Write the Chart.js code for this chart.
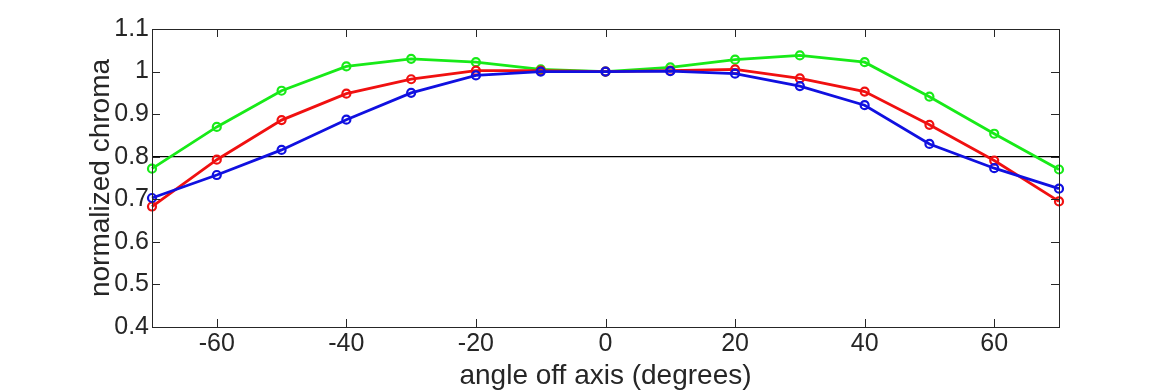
<!DOCTYPE html>
<html>
<head>
<meta charset="utf-8">
<script src="https://cdn.jsdelivr.net/npm/chart.js@4.4.1/dist/chart.umd.min.js"></script>
<style>
  html, body { margin: 0; padding: 0; background: #fff; }
  #wrap { width: 1170px; height: 390px; position: relative; }
</style>
</head>
<body>
<div id="wrap"><canvas id="chromaChart"></canvas></div>
<script>
// viewing angle samples (degrees)
const angles = [-70, -60, -50, -40, -30, -20, -10, 0, 10, 20, 30, 40, 50, 60, 70];

// normalized chroma per channel
const greenVals = [0.772, 0.870, 0.955, 1.012, 1.030, 1.022, 1.005, 1.000, 1.010, 1.028, 1.038, 1.022, 0.941, 0.854, 0.770];
const redVals   = [0.683, 0.793, 0.886, 0.948, 0.982, 1.002, 1.002, 1.000, 1.002, 1.005, 0.984, 0.953, 0.875, 0.791, 0.695];
const blueVals  = [0.703, 0.757, 0.816, 0.887, 0.950, 0.991, 1.000, 1.000, 1.001, 0.995, 0.966, 0.921, 0.830, 0.773, 0.725];

// reference threshold line
const refAngles = [-70, 70];
const refVals = [0.8, 0.8];

const xTicks = [-60, -40, -20, 0, 20, 40, 60];
const yTicks = [0.4, 0.5, 0.6, 0.7, 0.8, 0.9, 1.0, 1.1];

const axisColor = "#262626";
const fontFamily = "'Liberation Sans', Arial, Helvetica, sans-serif";

function toPoints(xs, ys) {
  return xs.map((x, i) => ({ x: x, y: ys[i] }));
}

function series(label, color, values) {
  return {
    label: label,
    data: toPoints(angles, values),
    borderColor: color,
    borderWidth: 2.8,
    pointRadius: 4,
    pointBorderWidth: 2.2,
    pointBackgroundColor: "rgba(0,0,0,0)",
    pointBorderColor: color,
    pointHoverRadius: 4,
    tension: 0,
    clip: false,
  };
}

// box frame with inward ticks, like the matlab figure
const framePlugin = {
  id: "frame",
  afterDraw(chart) {
    const { ctx, chartArea: a, scales } = chart;
    const len = 8;
    ctx.save();
    ctx.strokeStyle = axisColor;
    ctx.lineWidth = 1;
    ctx.strokeRect(a.left + 0.5, a.top + 0.5, a.right - a.left, a.bottom - a.top);
    ctx.beginPath();
    xTicks.forEach((v) => {
      const px = Math.round(scales.x.getPixelForValue(v)) + 0.5;
      ctx.moveTo(px, a.bottom);
      ctx.lineTo(px, a.bottom - len);
      ctx.moveTo(px, a.top);
      ctx.lineTo(px, a.top + len);
    });
    yTicks.forEach((v) => {
      const py = Math.round(scales.y.getPixelForValue(v)) + 0.5;
      ctx.moveTo(a.left, py);
      ctx.lineTo(a.left + len, py);
      ctx.moveTo(a.right, py);
      ctx.lineTo(a.right - len, py);
    });
    ctx.stroke();
    ctx.restore();
  },
};

const ctx = document.getElementById("chromaChart");

new Chart(ctx, {
  type: "line",
  data: {
    datasets: [
      series("blue", "#1010e0", blueVals),
      series("red", "#f01010", redVals),
      series("green", "#18ea18", greenVals),
      {
        label: "ref",
        data: toPoints(refAngles, refVals),
        borderColor: "#000",
        borderWidth: 1.2,
        pointRadius: 0,
        pointHoverRadius: 0,
      },
    ],
  },
  options: {
    responsive: true,
    maintainAspectRatio: false,
    animation: false,
    events: [],
    layout: {
      padding: { left: 87, right: 111, top: 29, bottom: 0 },
    },
    scales: {
      x: {
        type: "linear",
        min: -70,
        max: 70,
        afterBuildTicks: (scale) => {
          scale.ticks = xTicks.map((v) => ({ value: v }));
        },
        afterFit: (scale) => {
          scale.height = 63;
        },
        grid: { display: false, drawTicks: false },
        border: { display: false },
        ticks: {
          color: axisColor,
          padding: 2,
          font: { family: fontFamily, size: 25 },
          maxRotation: 0,
        },
        title: {
          display: true,
          text: "angle off axis (degrees)",
          color: axisColor,
          padding: 0,
          font: { family: fontFamily, size: 28, lineHeight: 1 },
        },
      },
      y: {
        type: "linear",
        min: 0.4,
        max: 1.1,
        afterBuildTicks: (scale) => {
          scale.ticks = yTicks.map((v) => ({ value: v }));
        },
        afterFit: (scale) => {
          scale.width = 65;
        },
        grid: { display: false, drawTicks: false },
        border: { display: false },
        ticks: {
          color: axisColor,
          padding: 3,
          font: { family: fontFamily, size: 25 },
          callback: (v) => String(Math.round(v * 10) / 10),
        },
        title: {
          display: true,
          text: "normalized chroma",
          color: axisColor,
          padding: 0,
          font: { family: fontFamily, size: 28, lineHeight: 1 },
        },
      },
    },
    plugins: {
      legend: { display: false },
      tooltip: { enabled: false },
    },
  },
  plugins: [framePlugin],
});
</script>
</body>
</html>
